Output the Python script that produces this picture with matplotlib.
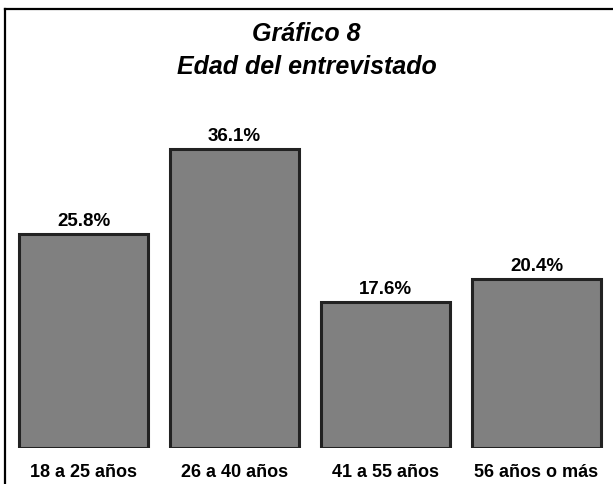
import numpy as np
import matplotlib.pyplot as plt
from matplotlib.lines import Line2D

# data
categories = ['18 a 25 años', '26 a 40 años', '41 a 55 años', '56 años o más']
values = [25.8, 36.1, 17.6, 20.4]

plt.rcParams['font.family'] = ['Liberation Sans', 'DejaVu Sans']

fig = plt.figure(figsize=(6.13, 4.85), dpi=100)
ax = fig.add_axes([8 / 613, 36 / 485, 604 / 613, (449 - 36) / 485])

r = np.arange(len(categories))
bars = ax.bar(r, values, width=0.86, color='#808080', edgecolor='#222222', linewidth=2.2)

# value labels above the bars
for bar, v in zip(bars, values):
    ax.text(bar.get_x() + bar.get_width() / 2, v + 0.6, f'{v:.1f}%',
            ha='center', va='bottom', fontsize=13.5, fontweight='bold')

ax.set_xlim(-0.5, 3.5)
ax.set_ylim(0, 413 / 8.29)
ax.set_xticks(r)
ax.set_xticklabels(categories, fontsize=13, fontweight='bold')
ax.tick_params(bottom=False, left=False, pad=7)
ax.set_yticks([])
for spine in ax.spines.values():
    spine.set_visible(False)

# title
fig.text(0.5, 1 - 34 / 485, 'Gráfico 8', ha='center', va='center',
         fontsize=18, fontweight='bold', fontstyle='italic')
fig.text(0.5, 1 - 67 / 485, 'Edad del entrevistado', ha='center', va='center',
         fontsize=18, fontweight='bold', fontstyle='italic')

# frame (top and left visible only)
top = 1 - 10 / 485
left = 5.5 / 613
fig.add_artist(Line2D([left, 1.0], [top, top], transform=fig.transFigure, color='black', lw=1.6))
fig.add_artist(Line2D([left, left], [0, top], transform=fig.transFigure, color='black', lw=1.6))

fig.savefig('out.png', dpi=100)
